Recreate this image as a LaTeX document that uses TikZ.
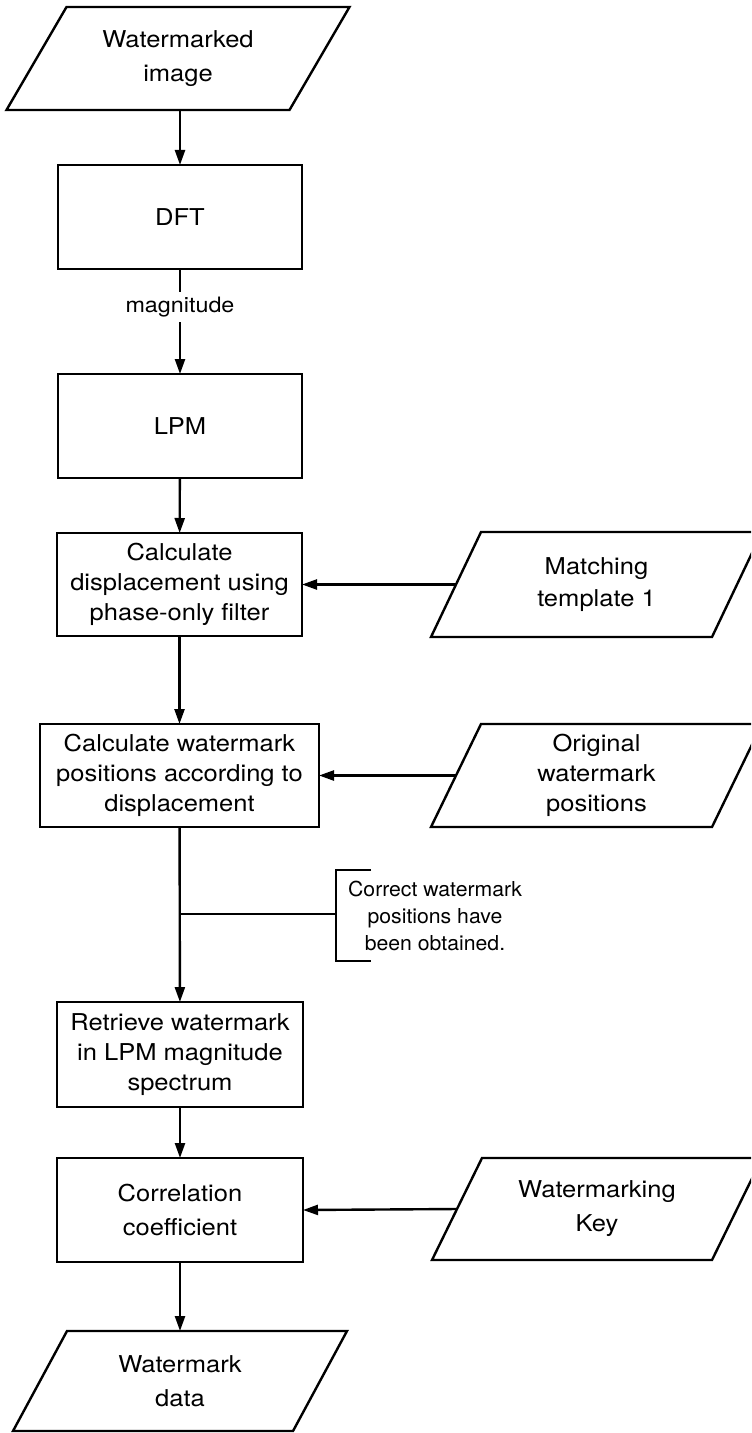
\documentclass[tikz,border=0pt]{standalone}
\usepackage{fontspec}
\setmainfont{TeX Gyre Heros}[FakeStretch=1.1]
\newfontfamily\notefont{TeX Gyre Heros}[FakeStretch=1.03]
\usetikzlibrary{arrows.meta,calc}

% outline of a slanted data box around a named text node
\newcommand\drawpara[2]{%
  \draw ($(#1.north west)+(#2/2,0)$) -- ($(#1.north east)+(#2/2,0)$)
     -- ($(#1.south east)+(-#2/2,0)$) -- ($(#1.south west)+(-#2/2,0)$) -- cycle;}

\begin{document}
\begin{tikzpicture}[x=0.5pt,y=-0.5pt,
  line width=1.2pt, line join=miter,
  every node/.style={inner sep=0pt,outer sep=0pt},
  txt/.style={align=center,font=\fontsize{11.6}{#1}\selectfont},
  box/.style={draw,txt=15pt},
  box2/.style={draw,txt=17pt},
  data/.style={txt=#1},
  arr/.style={-{Triangle[length=7.5pt,width=5pt]}}]

\useasboundingbox (0,0) rectangle (751,1433);
\clip (0,0) rectangle (751,1433);

% process steps
\node[box2,minimum width=122pt,minimum height=52pt] (dft) at (180,217) {DFT};
\node[box2,minimum width=122pt,minimum height=52pt] (lpm) at (180,426) {LPM};
\node[box,minimum width=122.5pt,minimum height=51.5pt] (disp) at (179.5,584.5)
  {Calculate\\displacement using\\phase-only filter};
\node[box,minimum width=139.5pt,minimum height=51.5pt] (pos) at (179.5,775.5)
  {Calculate watermark\\positions according to\\displacement};
\node[box,minimum width=123pt,minimum height=52.5pt] (ret) at (180,1054.5)
  {Retrieve watermark\\in LPM magnitude\\spectrum};
\node[box2,minimum width=123pt,minimum height=52pt] (corr) at (180,1210)
  {Correlation\\coefficient};

% data inputs and outputs
\node[data=17pt,minimum width=141.5pt,minimum height=51.5pt] (in) at (178,58.5)
  {Watermarked\\image};
\drawpara{in}{60}
\node[data=16pt,minimum width=140.5pt,minimum height=52.5pt] (tmpl) at (596.5,584.5)
  {Matching\\template 1};
\drawpara{tmpl}{50}
\node[data=15pt,minimum width=140.5pt,minimum height=51.5pt] (orig) at (596.5,775.5)
  {Original\\watermark\\positions};
\drawpara{orig}{50}
\node[data=17pt,minimum width=140pt,minimum height=51pt] (key) at (597,1209)
  {Watermarking\\Key};
\drawpara{key}{50}
\node[data=17pt,minimum width=140pt,minimum height=50pt] (out) at (180,1381)
  {Watermark\\data};
\drawpara{out}{54}

% annotation on the main line
\node[align=center,font=\notefont\fontsize{10.3}{13.5}\selectfont] (note) at (435,916)
  {Correct watermark\\positions have\\been obtained.};
\coordinate (brk) at (336,914);
\coordinate (j) at (pos.south |- brk);
\draw[line width=1pt] ($(brk)+(35,-44)$) -- ($(brk)+(0,-44)$) -- ($(brk)+(0,47)$) -- ($(brk)+(35,47)$);

% connectors
\draw[arr] (in.south -| dft.north) -- (dft.north);
\draw[arr] (dft) -- node[pos=.36,fill=white,inner xsep=2pt,inner ysep=2.6pt,
  font=\fontsize{10.6}{12}\selectfont] (mag) {magnitude} (lpm);
\draw[arr] (lpm) -- (disp);
\draw[arr] (tmpl.west) -- (disp.east);
\draw[arr] (disp) -- (pos);
\draw[arr] (orig.west) -- (pos.east);
\draw[arr] (pos) -- (ret);
\draw (j) -- (brk);
\draw[arr] (ret) -- (corr);
\draw[arr] (key.west) -- (corr.east);
\draw[arr] (corr.south) -- (corr.south |- out.north);
\end{tikzpicture}
\end{document}
